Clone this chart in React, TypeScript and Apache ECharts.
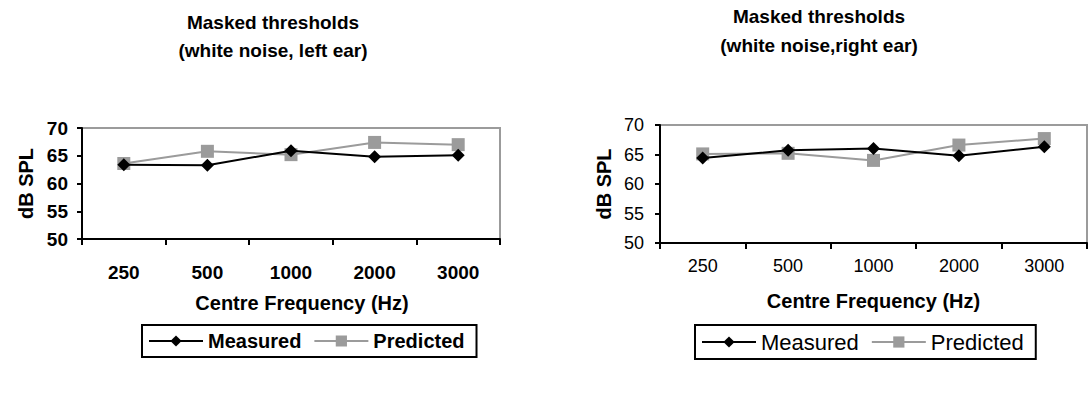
import React, { useEffect, useRef } from "react";
import * as echarts from "echarts";

const categories = ["250", "500", "1000", "2000", "3000"];
const leftMeasured = [63.4, 63.3, 65.9, 64.8, 65.1];
const leftPredicted = [63.6, 65.8, 65.2, 67.4, 67.0];
const rightMeasured = [64.4, 65.7, 66.0, 64.8, 66.3];
const rightPredicted = [65.1, 65.2, 64.0, 66.6, 67.7];
const yTicks = { min: 50, max: 70, interval: 5 };
const FONT = "Liberation Sans, Arial, sans-serif";
const GRAY = "#9b9b9b";

function mkAxes(bold: boolean, gridIndex: number, labelMargin: number, nameGapX: number, nameGapY: number, yLabelMargin: number, xNamePad: number[], labelSize: number) {
  const fw = bold ? "bold" : "normal";
  const xAxis = {
    type: "category",
    gridIndex,
    data: categories,
    boundaryGap: true,
    name: "Centre Frequency (Hz)",
    nameLocation: "middle",
    nameGap: nameGapX,
    nameTextStyle: { fontFamily: FONT, fontSize: 20, fontWeight: "bold", color: "#000", padding: xNamePad },
    axisLine: { lineStyle: { color: "#000", width: 2 } },
    axisTick: { show: true, length: 6, lineStyle: { color: "#000", width: 2 } },
    axisLabel: { fontFamily: FONT, fontSize: labelSize, fontWeight: fw, color: "#000", margin: labelMargin },
    splitLine: { show: false },
  };
  const yAxis = {
    type: "value",
    gridIndex,
    min: yTicks.min,
    max: yTicks.max,
    interval: yTicks.interval,
    name: "dB SPL",
    nameLocation: "middle",
    nameGap: nameGapY,
    nameTextStyle: { fontFamily: FONT, fontSize: 20, fontWeight: "bold", color: "#000" },
    axisLine: { show: true, lineStyle: { color: "#000", width: 2 } },
    axisTick: { show: true, length: 5, lineStyle: { color: "#000", width: 2 } },
    axisLabel: { fontFamily: FONT, fontSize: labelSize, fontWeight: fw, color: "#000", margin: yLabelMargin },
    splitLine: { show: false },
  };
  return { xAxis, yAxis };
}

function mkSeries(name: string, data: number[], idx: number, measured: boolean) {
  return {
    type: "line",
    name,
    xAxisIndex: idx,
    yAxisIndex: idx,
    data,
    symbol: measured ? "diamond" : "rect",
    symbolSize: 13,
    z: measured ? 3 : 2,
    lineStyle: { color: measured ? "#000" : GRAY, width: 2 },
    itemStyle: { color: measured ? "#000" : GRAY },
  };
}

export default function App() {
  const ref = useRef<HTMLDivElement>(null);
  useEffect(() => {
    if (!ref.current) return;
    const chart = echarts.init(ref.current, undefined, { renderer: "svg" });
    const L = mkAxes(true, 0, 24, 54, 46, 14, [0, 0, 0, 22], 19);
    const R = mkAxes(false, 1, 14, 48, 46, 16, [0, 0, 0, 0], 18);
    chart.setOption({
      animation: false,
      backgroundColor: "#fff",
      title: [
        {
          text: "Masked thresholds\n(white noise, left ear)",
          left: 268,
          top: 3,
          textAlign: "center",
          textStyle: { fontFamily: FONT, fontSize: 19, fontWeight: "bold", color: "#000", lineHeight: 28 },
        },
        {
          text: "Masked thresholds\n(white noise,right ear)",
          left: 814,
          top: -3,
          textAlign: "center",
          textStyle: { fontFamily: FONT, fontSize: 19, fontWeight: "bold", color: "#000", lineHeight: 29 },
        },
      ],
      grid: [
        { left: 82, top: 128, width: 418, height: 111, show: true, borderColor: GRAY, borderWidth: 2, containLabel: false },
        { left: 660, top: 125, width: 427, height: 118, show: true, borderColor: GRAY, borderWidth: 2, containLabel: false },
      ],
      xAxis: [L.xAxis, R.xAxis],
      yAxis: [L.yAxis, R.yAxis],
      legend: [
        {
          left: 142,
          top: 325,
          data: ["Measured", "Predicted"],
          borderColor: "#000",
          borderWidth: 2,
          padding: [6, 12, 6, 6],
          itemWidth: 54,
          itemHeight: 14,
          itemGap: 12,
          selectedMode: false,
          textStyle: { fontFamily: FONT, fontSize: 20, fontWeight: "bold", color: "#000" },
        },
        {
          left: 695,
          top: 325,
          data: ["Measured", "Predicted"],
          borderColor: "#000",
          borderWidth: 2,
          padding: [6, 12, 6, 6],
          itemWidth: 54,
          itemHeight: 14,
          itemGap: 12,
          selectedMode: false,
          textStyle: { fontFamily: FONT, fontSize: 22, fontWeight: "normal", color: "#000" },
        },
      ],
      series: [
        mkSeries("Measured", leftMeasured, 0, true),
        mkSeries("Predicted", leftPredicted, 0, false),
        mkSeries("Measured", rightMeasured, 1, true),
        mkSeries("Predicted", rightPredicted, 1, false),
      ],
    });
    return () => chart.dispose();
  }, []);
  return <div ref={ref} style={{ position: "absolute", left: 0, top: 0, width: 1091, height: 394 }} />;
}
